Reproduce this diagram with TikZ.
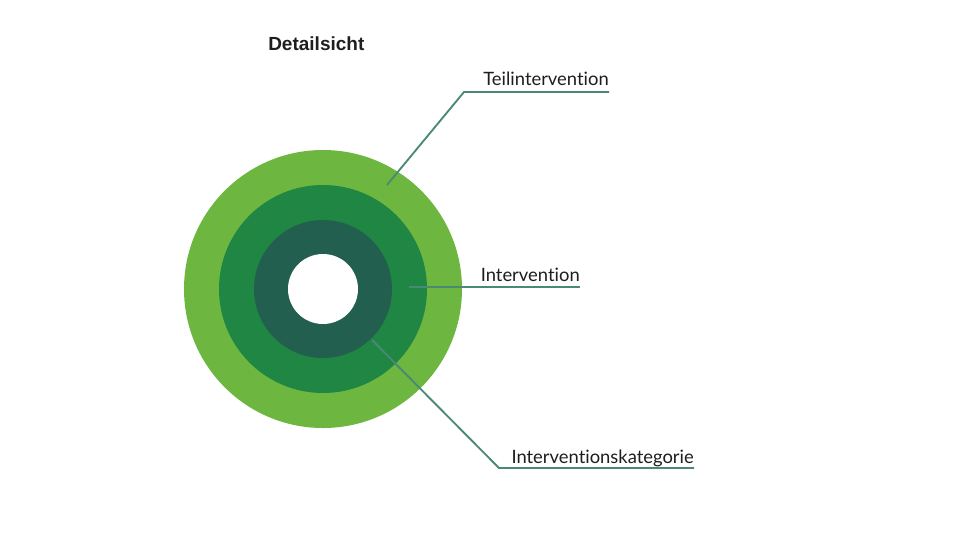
\documentclass[tikz,border=0pt]{standalone}
\usepackage{fontspec}
\setmainfont{Lato}[Ligatures=NoCommon]
\newfontfamily\titlefont{Liberation Sans}
\usetikzlibrary{positioning}
\definecolor{ringlight}{HTML}{6DB640}
\definecolor{ringmid}{HTML}{1F8644}
\definecolor{ringdark}{HTML}{225F4F}
\definecolor{leadgreen}{HTML}{4A8A75}
\definecolor{labelgray}{HTML}{1E1E1E}

\begin{document}
\begin{tikzpicture}[x=0.75pt,y=-0.75pt,
  leader/.style={draw=leadgreen,line width=1.4pt},
  ringlabel/.style={font=\fontsize{13.8}{16}\selectfont,text=labelgray,inner sep=0pt,anchor=base east}]
\useasboundingbox[fill=white] (0,0) rectangle (960,540);
\node[font=\titlefont\bfseries\fontsize{14.25}{16}\selectfont,text=labelgray,inner sep=0pt,anchor=base west] (title) at (268,50) {Detailsicht};

% rings
\coordinate (c) at (323,289);
\fill [ringlight] (c) circle (104.25pt);
\fill [ringmid] (c) circle (78pt);
\fill [ringdark] (c) circle (51.75pt);
\fill [white] (c) circle (26.25pt);

% labels
\node[ringlabel] (teil) at (609,85) {Teilintervention};
\node[ringlabel] (interv) at (580,281) {Intervention};
\node[ringlabel] (kat) at (694,463) {Interventionskategorie};

\coordinate (teil-a) at (387,185);
\coordinate (teil-b) at (464,92);
\coordinate (interv-a) at (409,287);
\coordinate (kat-a) at (372,340);
\coordinate (kat-b) at (499,468);

\draw [leader] (teil-a)--(teil-b)--(teil-b -| teil.east);
\draw [leader] (interv-a)--(interv-a -| interv.east);
\draw [leader] (kat-a)--(kat-b)--(kat-b -| kat.east);

\end{tikzpicture}
\end{document}
